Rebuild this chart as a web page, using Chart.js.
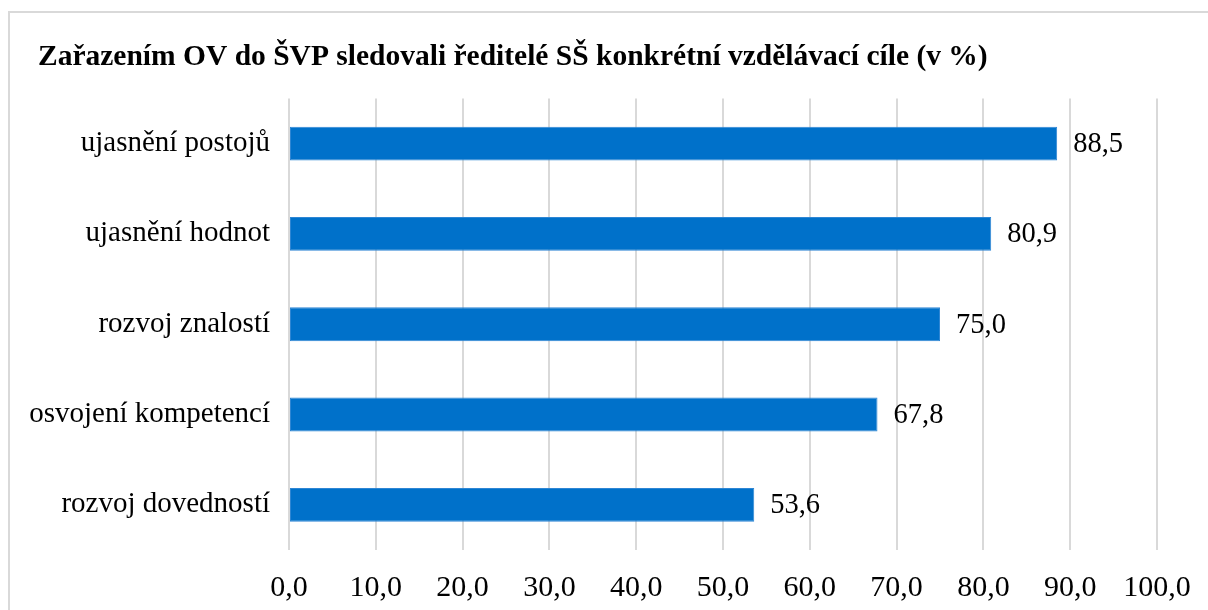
<!DOCTYPE html>
<html>
<head>
<meta charset="utf-8">
<script src="https://cdn.jsdelivr.net/npm/chart.js@4.4.1/dist/chart.umd.min.js"></script>
<style>
    body { margin: 0; background: #fff; overflow: hidden; }
    #wrap { position: relative; width: 1208px; height: 610px; }
    #frame { position: absolute; left: 8px; top: 11px; width: 1220px; height: 620px; border: 2px solid #d9d9d9; pointer-events: none; }
</style>
</head>
<body>
<div id="wrap">
    <canvas id="chart" width="1208" height="610"></canvas>
    <div id="frame"></div>
</div>
<script>
const title = 'Zařazením OV do ŠVP sledovali ředitelé SŠ konkrétní vzdělávací cíle (v %)';
const categories = ['ujasnění postojů', 'ujasnění hodnot', 'rozvoj znalostí', 'osvojení kompetencí', 'rozvoj dovedností'];
const values = [88.5, 80.9, 75.0, 67.8, 53.6];
const axisMin = 0;
const axisMax = 100;
const axisStep = 10;

const serif = '"Liberation Serif", "Times New Roman", serif';

function czNum(v) {
    return Number(v).toFixed(1).replace('.', ',');
}

// values written right of each bar
const barLabels = {
    id: 'barLabels',
    afterLayout(chart) {
        // long category names may run past the left padding, so widen the label clip
        chart.scales.y.left = 0;
    },
    afterDatasetsDraw(chart) {
        const ctx = chart.ctx;
        const meta = chart.getDatasetMeta(0);
        ctx.save();
        ctx.font = '28.5px ' + serif;
        ctx.fillStyle = '#000';
        ctx.textAlign = 'left';
        ctx.textBaseline = 'middle';
        meta.data.forEach((bar, i) => {
            ctx.fillText(czNum(values[i]), bar.x + 16, bar.y + 1);
        });
        ctx.restore();
    }
};

new Chart(document.getElementById('chart'), {
    type: 'bar',
    data: {
        labels: categories,
        datasets: [{
            data: values,
            backgroundColor: '#0071CA',
            borderColor: '#2E86D4',
            borderWidth: 1,
            borderSkipped: false,
            barPercentage: 0.375,
            categoryPercentage: 1
        }]
    },
    options: {
        indexAxis: 'y',
        responsive: false,
        animation: false,
        layout: { padding: { left: 38, right: 51, top: 0, bottom: 0 } },
        plugins: {
            legend: { display: false },
            tooltip: { enabled: false },
            title: {
                display: true,
                text: title,
                align: 'start',
                color: '#000',
                font: { family: serif, size: 29.5, weight: 'bold' },
                padding: { top: 40, bottom: 23 }
            }
        },
        scales: {
            x: {
                min: axisMin,
                max: axisMax,
                ticks: {
                    stepSize: axisStep,
                    color: '#000',
                    font: { family: serif, size: 30 },
                    padding: 20,
                    callback: v => czNum(v)
                },
                grid: { color: '#d9d9d9', lineWidth: 2, drawTicks: false },
                border: { display: false },
                afterFit(scale) {
                    scale.height = 60;
                    scale.paddingLeft = 0;
                    scale.paddingRight = 0;
                }
            },
            y: {
                ticks: {
                    color: '#000',
                    font: { family: serif, size: 29 },
                    padding: 19
                },
                grid: { display: false, drawTicks: false },
                border: { display: false },
                afterFit(scale) { scale.width = 251; }
            }
        }
    },
    plugins: [barLabels]
});
</script>
</body>
</html>
